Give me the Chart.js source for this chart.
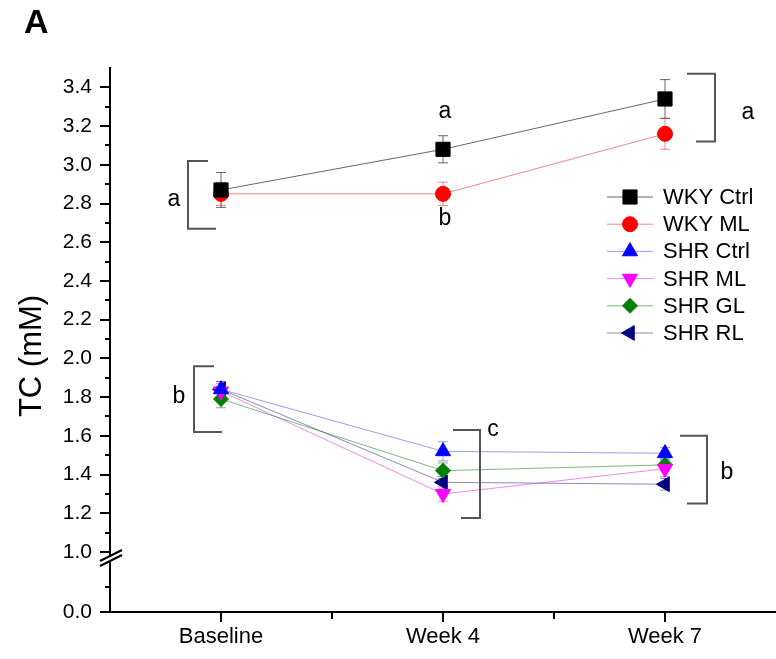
<!DOCTYPE html>
<html>
<head>
<meta charset="utf-8">
<title>TC (mM)</title>
<script src="https://cdn.jsdelivr.net/npm/chart.js@4/dist/chart.umd.min.js"></script>
<style>
    html, body { margin: 0; padding: 0; background: #fff; overflow: hidden; }
    #wrap { width: 776px; height: 659px; }
</style>
</head>
<body>
<div id="wrap"><canvas id="chart-tc" width="776" height="659"></canvas></div>
<script>
// datos: colesterol total por grupo
const categories = ['Baseline', 'Week 4', 'Week 7'];

const wkyCtrl = [2.87, 3.08, 3.34];
const wkyMl   = [2.85, 2.85, 3.16];
const shrCtrl = [1.84, 1.52, 1.51];
const shrMl   = [1.83, 1.30, 1.43];
const shrGl   = [1.79, 1.42, 1.45];
const shrRl   = [1.84, 1.36, 1.35];

// error (SEM)
const wkyCtrlErr = [0.09, 0.07, 0.10];
const wkyMlErr   = [0.06, 0.06, 0.08];
const shrCtrlErr = [0.04, 0.05, 0.03];
const shrMlErr   = [0.04, 0.04, 0.04];
const shrGlErr   = [0.045, 0.04, 0.03];
const shrRlErr   = [0.04, 0.03, 0.03];

// eje Y partido: tramo alto 1.0-3.5, tramo bajo 0-1.2
const yTicksUpper = [1.0, 1.2, 1.4, 1.6, 1.8, 2.0, 2.2, 2.4, 2.6, 2.8, 3.0, 3.2, 3.4];
const yMinorUpper = [1.1, 1.3, 1.5, 1.7, 1.9, 2.1, 2.3, 2.5, 2.7, 2.9, 3.1, 3.3];
const yTicksLower = [0.0];
const yMinorLower = [0.5];

// letras de significancia con sus corchetes (en valores de eje)
const brackets = [
    { cat: 0, dx: -33, top: 3.02, bottom: 2.67, topEnd: -13, bottomEnd: -5, text: 'a', tx: -47, ty: 2.82 },
    { cat: 2, dx: 50, top: 3.47, bottom: 3.12, topEnd: 22, bottomEnd: 31, text: 'a', tx: 83, ty: 3.27 },
    { cat: 0, dx: -27, top: 1.96, bottom: 1.62, topEnd: -7, bottomEnd: 1, text: 'b', tx: -42, ty: 1.80 },
    { cat: 1, dx: 37, top: 1.63, bottom: 1.175, topEnd: 10, bottomEnd: 18, text: 'c', tx: 50, ty: 1.63 },
    { cat: 2, dx: 42, top: 1.60, bottom: 1.25, topEnd: 15, bottomEnd: 22, text: 'b', tx: 62, ty: 1.41 }
];
const letters = [
    { cat: 1, tx: 2, ty: 3.275, text: 'a' },
    { cat: 1, tx: 2, ty: 2.72, text: 'b' }
];

const FONT = "'Liberation Sans', Arial, Helvetica, sans-serif";

const series = [
    { label: 'WKY Ctrl', data: wkyCtrl, err: wkyCtrlErr, color: '#000000', line: 'rgba(0,0,0,0.6)', style: 'rect', rot: 0, r: 10 },
    { label: 'WKY ML', data: wkyMl, err: wkyMlErr, color: '#ff0000', line: 'rgba(220,40,40,0.55)', style: 'circle', rot: 0, r: 7.5 },
    { label: 'SHR Ctrl', data: shrCtrl, err: shrCtrlErr, color: '#0000ff', line: 'rgba(60,60,220,0.5)', style: 'triangle', rot: 0, r: 8.7 },
    { label: 'SHR ML', data: shrMl, err: shrMlErr, color: '#ff00ff', line: 'rgba(220,40,220,0.55)', style: 'triangle', rot: 180, r: 8.7 },
    { label: 'SHR GL', data: shrGl, err: shrGlErr, color: '#008000', line: 'rgba(20,120,20,0.55)', style: 'rectRot', rot: 0, r: 7.5 },
    { label: 'SHR RL', data: shrRl, err: shrRlErr, color: '#000080', line: 'rgba(40,40,120,0.55)', style: 'triangle', rot: -90, r: 8.5 }
];

Chart.defaults.font.family = FONT;
Chart.defaults.color = '#000';

// barras de error detrás de los marcadores
const errorBarsPlugin = {
    id: 'errorBars',
    beforeDatasetsDraw(chart) {
        const ctx = chart.ctx;
        const xs = chart.scales.x, ys = chart.scales.y;
        series.forEach(s => {
            ctx.save();
            ctx.strokeStyle = s.line;
            ctx.lineWidth = 1;
            s.err.forEach((e, i) => {
                const px = xs.getPixelForValue(i);
                const top = ys.getPixelForValue(s.data[i] + e);
                const bot = ys.getPixelForValue(s.data[i] - e);
                ctx.beginPath();
                ctx.moveTo(px, top); ctx.lineTo(px, bot);
                ctx.moveTo(px - 5, top); ctx.lineTo(px + 5, top);
                ctx.moveTo(px - 5, bot); ctx.lineTo(px + 5, bot);
                ctx.stroke();
            });
            ctx.restore();
        });
    }
};

function drawMarker(ctx, s, x, y) {
    ctx.save();
    ctx.fillStyle = s.color;
    ctx.strokeStyle = s.color;
    Chart.helpers.drawPoint(ctx, { pointStyle: s.style, rotation: s.rot, radius: s.r, borderWidth: 1 }, x, y);
    ctx.restore();
}

const decorPlugin = {
    id: 'decor',
    afterDraw(chart) {
        const ctx = chart.ctx;
        const xs = chart.scales.x, ys = chart.scales.y, yl = chart.scales.yLow;
        const axisX = chart.chartArea.left;

        ctx.save();
        // ticks menores
        ctx.strokeStyle = '#000';
        ctx.lineWidth = 2;
        ctx.beginPath();
        yMinorUpper.forEach(v => {
            const py = Math.round(ys.getPixelForValue(v));
            ctx.moveTo(axisX - 5, py); ctx.lineTo(axisX, py);
        });
        yMinorLower.forEach(v => {
            const py = Math.round(yl.getPixelForValue(v));
            ctx.moveTo(axisX - 5, py); ctx.lineTo(axisX, py);
        });
        for (let i = 0; i < categories.length - 1; i++) {
            const px = Math.round((xs.getPixelForValue(i) + xs.getPixelForValue(i + 1)) / 2);
            ctx.moveTo(px, xs.top); ctx.lineTo(px, xs.top + 7);
        }
        ctx.stroke();

        // marca de corte en el eje Y
        const cy = ys.bottom + 6;
        ctx.fillStyle = '#fff';
        ctx.beginPath();
        ctx.moveTo(axisX - 10, cy + 3);
        ctx.lineTo(axisX + 12, cy - 8);
        ctx.lineTo(axisX + 12, cy - 3);
        ctx.lineTo(axisX - 10, cy + 8);
        ctx.closePath();
        ctx.fill();
        ctx.beginPath();
        ctx.moveTo(axisX - 10, cy + 3); ctx.lineTo(axisX + 12, cy - 8);
        ctx.moveTo(axisX - 10, cy + 8); ctx.lineTo(axisX + 12, cy - 3);
        ctx.stroke();

        // corchetes y letras
        ctx.strokeStyle = '#555';
        ctx.lineWidth = 2;
        ctx.fillStyle = '#000';
        ctx.font = '23px ' + FONT;
        ctx.textAlign = 'center';
        ctx.textBaseline = 'middle';
        brackets.forEach(b => {
            const cx = xs.getPixelForValue(b.cat);
            const vx = cx + b.dx;
            const top = ys.getPixelForValue(b.top);
            const bot = ys.getPixelForValue(b.bottom);
            ctx.beginPath();
            ctx.moveTo(cx + b.topEnd, top);
            ctx.lineTo(vx, top);
            ctx.lineTo(vx, bot);
            ctx.lineTo(cx + b.bottomEnd, bot);
            ctx.stroke();
            ctx.fillText(b.text, cx + b.tx, ys.getPixelForValue(b.ty));
        });
        letters.forEach(l => {
            ctx.fillText(l.text, xs.getPixelForValue(l.cat) + l.tx, ys.getPixelForValue(l.ty));
        });

        // leyenda con línea y marcador
        ctx.font = '22px ' + FONT;
        ctx.textAlign = 'left';
        series.forEach((s, i) => {
            const ly = 197 + i * 27.2;
            ctx.strokeStyle = s.line;
            ctx.lineWidth = 1;
            ctx.beginPath();
            ctx.moveTo(607, ly); ctx.lineTo(653, ly);
            ctx.stroke();
            drawMarker(ctx, s, 630, ly);
            ctx.fillStyle = '#000';
            ctx.fillText(s.label, 663, ly + 1);
        });

        // título del eje Y
        ctx.save();
        ctx.translate(32, 356);
        ctx.rotate(-Math.PI / 2);
        ctx.font = '31px ' + FONT;
        ctx.textAlign = 'center';
        ctx.fillText('TC (mM)', 0, 0);
        ctx.restore();

        // rótulo del panel
        ctx.font = 'bold 34px ' + FONT;
        ctx.textAlign = 'left';
        ctx.fillText('A', 24, 24);
        ctx.restore();
    }
};

const axisGrid = { drawOnChartArea: false, tickLength: 10, color: '#000', lineWidth: 2 };
const axisBorder = { display: true, color: '#000', width: 2 };

// sin márgenes extra por etiquetas: el área de trazado llega al borde derecho
function noPadding(scale, right) {
    scale.paddingLeft = 0;
    scale.paddingRight = right || 0;
    scale.paddingTop = 0;
    scale.paddingBottom = 0;
}

new Chart(document.getElementById('chart-tc'), {
    type: 'line',
    data: {
        labels: categories,
        datasets: series.map(s => ({
            label: s.label,
            data: s.data,
            yAxisID: 'y',
            borderColor: s.line,
            borderWidth: 1,
            backgroundColor: s.color,
            pointStyle: s.style,
            pointRotation: s.rot,
            pointRadius: s.r,
            pointBackgroundColor: s.color,
            pointBorderColor: s.color,
            pointBorderWidth: 1,
            tension: 0,
            fill: false,
            clip: false
        }))
    },
    options: {
        responsive: false,
        animation: false,
        devicePixelRatio: 1,
        layout: { autoPadding: false, padding: { top: 68, left: 0, right: -6, bottom: 0 } },
        plugins: {
            legend: { display: false },
            tooltip: { enabled: false }
        },
        scales: {
            x: {
                type: 'category',
                offset: true,
                grid: Object.assign({ offset: false }, axisGrid),
                border: axisBorder,
                ticks: { font: { size: 22 }, color: '#000', padding: 2, maxRotation: 0 },
                afterFit(scale) { scale.height = 47; noPadding(scale, -6); }
            },
            // el tramo bajo va primero: la pila se arma de abajo hacia arriba
            yLow: {
                type: 'linear',
                position: 'left',
                stack: 'tc',
                stackWeight: 60,
                min: 0,
                max: 1.2,
                afterBuildTicks(scale) { scale.ticks = yTicksLower.map(v => ({ value: v })); },
                ticks: { font: { size: 21 }, color: '#000', padding: 8, autoSkip: false, callback: v => v.toFixed(1) },
                grid: axisGrid,
                border: axisBorder,
                afterFit(scale) { scale.width = 110; noPadding(scale); }
            },
            y: {
                type: 'linear',
                position: 'left',
                stack: 'tc',
                stackWeight: 484,
                min: 1.0,
                max: 3.5,
                afterBuildTicks(scale) { scale.ticks = yTicksUpper.map(v => ({ value: v })); },
                ticks: { font: { size: 21 }, color: '#000', padding: 8, autoSkip: false, callback: v => v.toFixed(1) },
                grid: axisGrid,
                border: axisBorder,
                afterFit(scale) { scale.width = 110; noPadding(scale); }
            }
        }
    },
    plugins: [errorBarsPlugin, decorPlugin]
});
</script>
</body>
</html>
